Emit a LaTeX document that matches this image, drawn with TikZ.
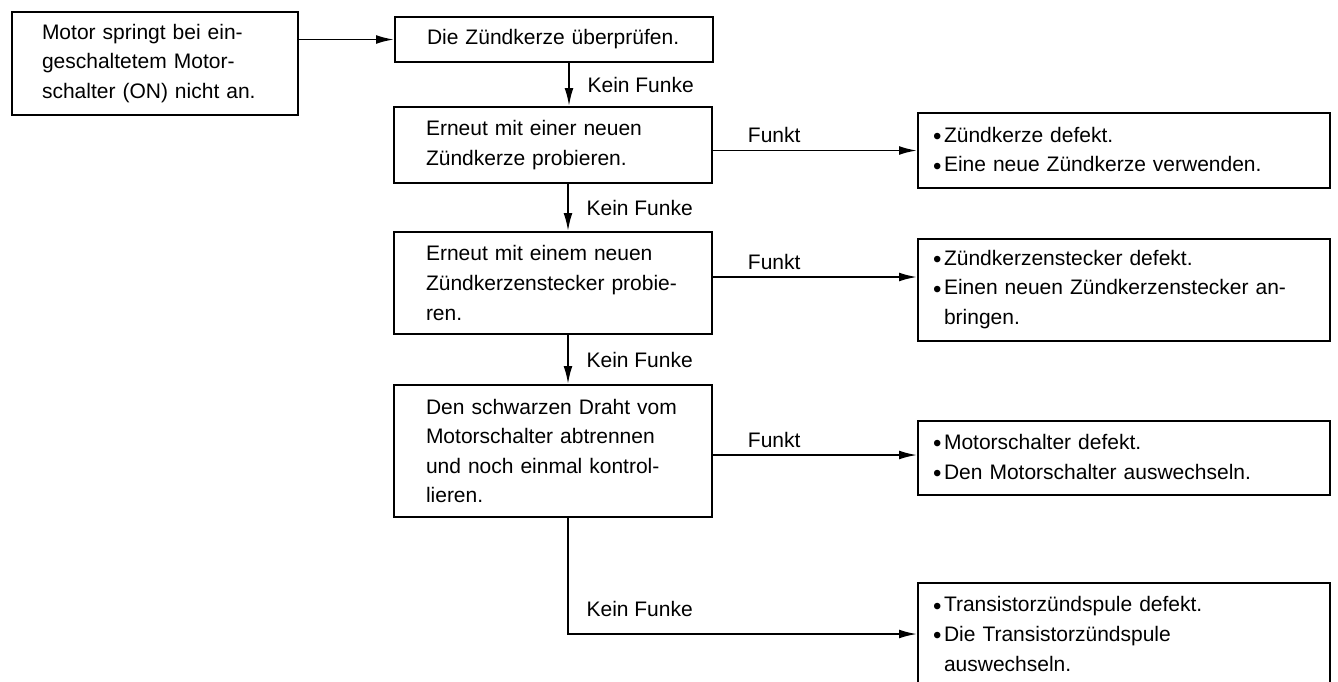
\documentclass[tikz,border=0pt]{standalone}
\usepackage{fontspec}
\setmainfont{Liberation Sans}
\usepackage{tikz}
\usetikzlibrary{arrows.meta,positioning}
\newcommand{\bul}{\makebox[5.5pt][l]{\raisebox{-0.2ex}{\large\textbullet}}}
\newcommand{\ind}{\hspace*{5.5pt}}

\begin{document}
\begin{tikzpicture}[x=0.5pt,y=-0.5pt,>={Latex[length=9pt,width=4.4pt]},
  font=\fontsize{10.5}{14.8}\selectfont,
  box/.style={draw,line width=1pt,align=left,inner xsep=16pt,text width=127pt},
  res/.style={draw,line width=1pt,align=left,inner xsep=7.5pt,text width=191pt},
  arr/.style={->,line width=0.9pt}]
  \useasboundingbox (0,0) rectangle (1338,681);
  % test steps
  \node[box,minimum height=51.5pt,inner xsep=15pt,text width=113pt] (start) at (155,63.5)
    {Motor springt bei ein-\\geschaltetem Motor-\\schalter (ON) nicht an.};
  \node[box,minimum height=22.5pt] (check) at (554,39.5) {Die Zündkerze überprüfen.};
  \node[box,minimum height=38pt] (plug) at (553,145) {Erneut mit einer neuen\\Zündkerze probieren.};
  \node[box,minimum height=51pt] (cap) at (553,283) {Erneut mit einem neuen\\Zündkerzenstecker probie-\\ren.};
  \node[box,minimum height=66pt] (wire) at (553,451)
    {Den schwarzen Draht vom\\Motorschalter abtrennen\\und noch einmal kontrol-\\lieren.};
  % results
  \node[res,minimum height=37.5pt] (r1) at (1124,150.5) {\bul Zündkerze defekt.\\\bul Eine neue Zündkerze verwenden.};
  \node[res,minimum height=51pt] (r2) at (1124,289.5)
    {\bul Zündkerzenstecker defekt.\\\bul Einen neuen Zündkerzenstecker an-\\\ind bringen.};
  \node[res,minimum height=37pt] (r3) at (1124,458) {\bul Motorschalter defekt.\\\bul Den Motorschalter auswechseln.};
  \node[res,minimum height=51pt,anchor=north] (r4) at (1124,582)
    {\bul Transistorzündspule defekt.\\\bul Die Transistorzündspule\\\ind auswechseln.};

  \draw[arr] (start.east |- check.west) -- (check.west);
  \foreach \a/\b in {check/plug,plug/cap,cap/wire} {
    \coordinate (t) at ([xshift=7.5pt]\a.south);
    \draw[arr] (t) -- (t |- \b.north) node[midway,right=5.5pt] {Kein Funke};
  }
  \coordinate (f2) at ([yshift=3pt]cap.east);
  \coordinate (f3) at ([yshift=-2pt]wire.east);
  \draw[arr] (plug.east |- r1.west) -- (r1.west) node[pos=0.3,above] {Funkt};
  \draw[arr] (f2) -- (f2 -| r2.west) node[pos=0.3,above] {Funkt};
  \draw[arr] (f3) -- (f3 -| r3.west) node[pos=0.3,above] {Funkt};
  \coordinate (t) at ([xshift=7.5pt]wire.south);
  \coordinate (bend) at ([yshift=-58pt]t);
  \draw[arr] (t) -- (bend) node[above right=5pt and 5.5pt] {Kein Funke} -- (bend -| r4.west);
\end{tikzpicture}
\end{document}
